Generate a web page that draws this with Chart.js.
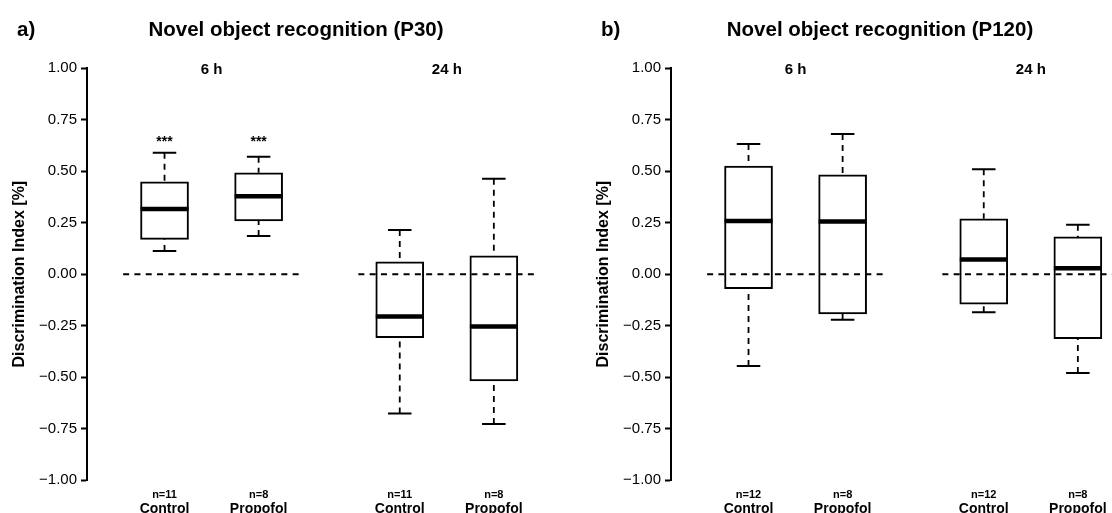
<!DOCTYPE html>
<html>
<head>
<meta charset="utf-8">
<script src="https://cdn.jsdelivr.net/npm/chart.js@4"></script>
<style>
html, body { margin: 0; padding: 0; background: #fff; overflow: hidden; }
#wrap { position: relative; width: 1112px; height: 513px; overflow: hidden; }
#wrap canvas { position: absolute; top: 0; }
</style>
</head>
<body>
<div id="wrap">
  <canvas id="p30" width="584" height="513" style="left:0px"></canvas>
  <canvas id="p120" width="584" height="513" style="left:584px"></canvas>
</div>
<script>
// shared layout of both panels
const positions = [1, 2, 3.5, 4.5];
const groupNames = ['Control', 'Propofol', 'Control', 'Propofol'];
const timeLabels = ['6 h', '24 h'];
const timePositions = [1.5, 4];
const zeroSegments = [[0.56, 2.43], [3.06, 4.93]];

// P30 boxplots
const p30N = ['n=11', 'n=8', 'n=11', 'n=8'];
const p30Low = [0.113, 0.185, -0.677, -0.728];
const p30Q1 = [0.169, 0.259, -0.308, -0.519];
const p30Median = [0.316, 0.379, -0.206, -0.254];
const p30Q3 = [0.449, 0.492, 0.060, 0.089];
const p30High = [0.590, 0.570, 0.215, 0.463];
const p30Stars = ['***', '***', '', ''];

// P120 boxplots
const p120N = ['n=12', 'n=8', 'n=12', 'n=8'];
const p120Low = [-0.446, -0.222, -0.185, -0.480];
const p120Q1 = [-0.070, -0.193, -0.146, -0.313];
const p120Median = [0.258, 0.256, 0.071, 0.029];
const p120Q3 = [0.525, 0.483, 0.269, 0.181];
const p120High = [0.632, 0.681, 0.510, 0.240];
const p120Stars = ['', '', '', ''];

const FONT = '"Liberation Sans", Arial, Helvetica, sans-serif';

function fmt(v) {
  const s = Math.abs(v).toFixed(2);
  return v < -1e-9 ? '\u2212' + s : s;
}

const boxParts = {
  id: 'boxParts',
  beforeDatasetsDraw(chart, args, o) {
    const ctx = chart.ctx, xs = chart.scales.x, ys = chart.scales.y;
    ctx.save();
    ctx.strokeStyle = '#000';
    positions.forEach((p, i) => {
      const x = xs.getPixelForValue(p);
      ctx.lineWidth = 1.8;
      ctx.setLineDash([6, 5]);
      ctx.beginPath();
      ctx.moveTo(x, ys.getPixelForValue(o.high[i]));
      ctx.lineTo(x, ys.getPixelForValue(o.q3[i]));
      ctx.moveTo(x, ys.getPixelForValue(o.low[i]));
      ctx.lineTo(x, ys.getPixelForValue(o.q1[i]));
      ctx.stroke();
      ctx.setLineDash([]);
      ctx.lineWidth = 2;
      ctx.beginPath();
      [o.high[i], o.low[i]].forEach(v => {
        const y = ys.getPixelForValue(v);
        ctx.moveTo(xs.getPixelForValue(p - 0.125), y);
        ctx.lineTo(xs.getPixelForValue(p + 0.125), y);
      });
      ctx.stroke();
    });
    ctx.restore();
  },
  afterDatasetsDraw(chart, args, o) {
    const ctx = chart.ctx, xs = chart.scales.x, ys = chart.scales.y;
    ctx.save();
    ctx.strokeStyle = '#000';
    ctx.lineWidth = 4.5;
    positions.forEach((p, i) => {
      const x = xs.getPixelForValue(p);
      const y = ys.getPixelForValue(o.median[i]);
      ctx.beginPath();
      ctx.moveTo(x - 24, y);
      ctx.lineTo(x + 24, y);
      ctx.stroke();
    });
    ctx.restore();
  },
  afterDraw(chart, args, o) {
    const ctx = chart.ctx, xs = chart.scales.x, ys = chart.scales.y;
    const area = chart.chartArea;
    ctx.save();
    ctx.fillStyle = '#000';
    ctx.textBaseline = 'alphabetic';
    ctx.font = 'bold 20.5px ' + FONT;
    ctx.textAlign = 'left';
    ctx.fillText(o.tag, 17, 35.5);
    ctx.textAlign = 'center';
    ctx.fillText(o.title, 296, 35.5);

    ctx.textBaseline = 'middle';
    ctx.font = 'bold 15px ' + FONT;
    timeLabels.forEach((t, i) => {
      ctx.fillText(t, xs.getPixelForValue(timePositions[i]), ys.getPixelForValue(1) + 1.5);
    });
    ctx.font = 'bold 14px ' + FONT;
    o.stars.forEach((s, i) => {
      if (s) ctx.fillText(s, xs.getPixelForValue(positions[i]), ys.getPixelForValue(0.64));
    });

    ctx.textBaseline = 'alphabetic';
    positions.forEach((p, i) => {
      const x = xs.getPixelForValue(p);
      ctx.font = 'bold 11px ' + FONT;
      ctx.fillText(o.n[i], x, area.bottom + 17.5);
      ctx.font = 'bold 14px ' + FONT;
      ctx.fillText(groupNames[i], x, area.bottom + 32.5);
    });
    ctx.restore();
  }
};

function makePanel(id, tag, title, low, q1, median, q3, high, n, stars) {
  const boxes = positions.map((p, i) => ({ x: p, y: [q1[i], q3[i]] }));
  const zeroLines = zeroSegments.map(seg => ({
    type: 'line',
    data: [{ x: seg[0], y: 0 }, { x: seg[1], y: 0 }],
    borderColor: '#000',
    borderWidth: 2,
    borderDash: [6, 5.3],
    pointRadius: 0,
    fill: false,
    order: 0
  }));
  return new Chart(document.getElementById(id), {
    type: 'bar',
    data: {
      datasets: [{
        type: 'bar',
        data: boxes,
        backgroundColor: '#fff',
        borderColor: '#000',
        borderWidth: 2,
        borderSkipped: false,
        barThickness: 48,
        order: 1
      }].concat(zeroLines)
    },
    options: {
      responsive: false,
      animation: false,
      events: [],
      layout: { padding: { left: 0, top: 68.3, right: 33.7, bottom: 33 } },
      plugins: {
        legend: { display: false },
        tooltip: { enabled: false },
        boxParts: { tag, title, low, q1, median, q3, high, n, stars }
      },
      scales: {
        x: { type: 'linear', min: 0.176, max: 5.1, offset: false, display: false },
        y: {
          type: 'linear',
          min: -1,
          max: 1,
          afterFit(s) { s.width = 87; },
          ticks: {
            stepSize: 0.25,
            color: '#000',
            padding: 4,
            font: { family: FONT, size: 15 },
            callback: v => fmt(v)
          },
          grid: {
            display: true,
            drawOnChartArea: false,
            drawTicks: true,
            tickLength: 6,
            tickWidth: 2,
            tickColor: '#000',
            color: '#000'
          },
          border: { display: true, color: '#000', width: 2 },
          title: {
            display: true,
            text: 'Discrimination Index [%]',
            color: '#000',
            font: { family: FONT, size: 16, weight: 'bold' },
            padding: { top: 9.5, bottom: 0 }
          }
        }
      }
    },
    plugins: [boxParts]
  });
}

makePanel('p30', 'a)', 'Novel object recognition (P30)',
  p30Low, p30Q1, p30Median, p30Q3, p30High, p30N, p30Stars);
makePanel('p120', 'b)', 'Novel object recognition (P120)',
  p120Low, p120Q1, p120Median, p120Q3, p120High, p120N, p120Stars);
</script>
</body>
</html>
